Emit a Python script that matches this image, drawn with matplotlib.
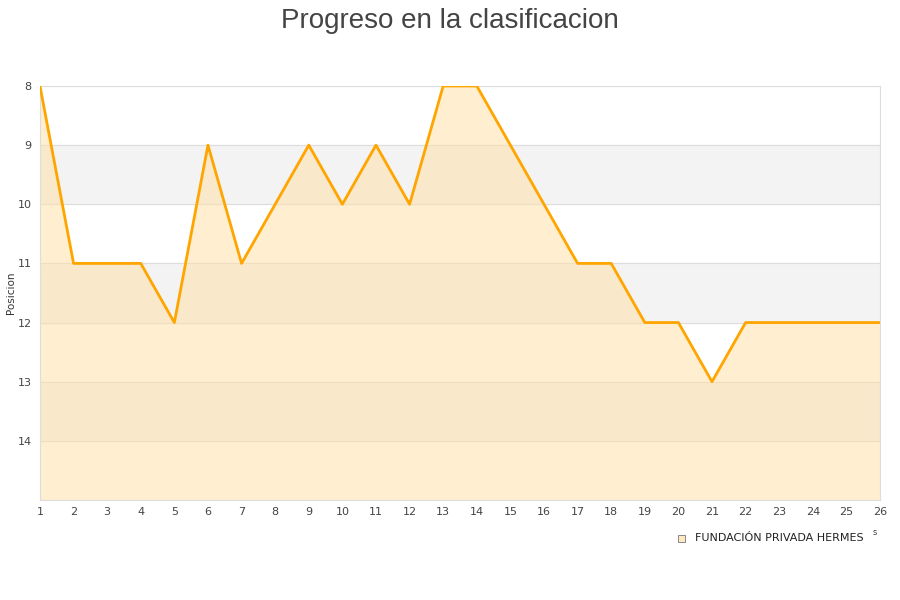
import matplotlib
matplotlib.use('Agg')
import matplotlib.pyplot as plt
import numpy as np

jornadas = list(range(1, 27))
posicion = [8, 11, 11, 11, 12, 9, 11, 10, 9, 10, 9, 10, 8, 8, 9, 10, 11, 11, 12, 12, 13, 12, 12, 12, 12, 12]
equipo = 'FUNDACIÓN PRIVADA HERMES'
y_ticks = [8, 9, 10, 11, 12, 13, 14]

fig = plt.figure(figsize=(9, 6), dpi=100)
ax = fig.add_axes([0.0444, 0.1667, 0.9334, 0.69])

# bandas alternas
for lo in [9, 11, 13]:
    ax.axhspan(lo, lo + 1, color='#f3f3f3', zorder=0)

ax.fill_between(jornadas, posicion, 15, color='#ffe0a8', alpha=0.55, zorder=1, linewidth=0)
ax.plot(jornadas, posicion, color='#ffa500', linewidth=2, zorder=3)

ax.set_xlim(1, 26)
ax.set_ylim(15, 8)
ax.set_xticks(jornadas)
ax.set_yticks(y_ticks)
ax.grid(axis='y', color='#dddddd', linewidth=0.8, zorder=0)
ax.set_axisbelow(True)
ax.tick_params(length=0, labelsize=8, colors='#444444', pad=6)
ax.tick_params(axis='x', pad=5)
for s in ax.spines.values():
    s.set_color('#dddddd')

ax.set_ylabel('Posicion', fontsize=7.5, color='#333333')
ax.yaxis.set_label_coords(-0.028, 0.5)

fig.text(0.5, 0.987, 'Progreso en la clasificacion', ha='center', va='top',
         fontsize=20, color='#444444', family='Liberation Sans')

fig.patches.append(plt.Rectangle((0.753, 0.096), 0.0085, 0.0125, transform=fig.transFigure,
                                 facecolor='#ffe9c4', edgecolor='#888888', linewidth=0.7))
fig.text(0.772, 0.103, equipo, fontsize=8, color='#222222', va='center')
fig.text(0.972, 0.113, 's', fontsize=6, color='#444444', va='center', ha='center')

fig.savefig('out.png', dpi=100)
